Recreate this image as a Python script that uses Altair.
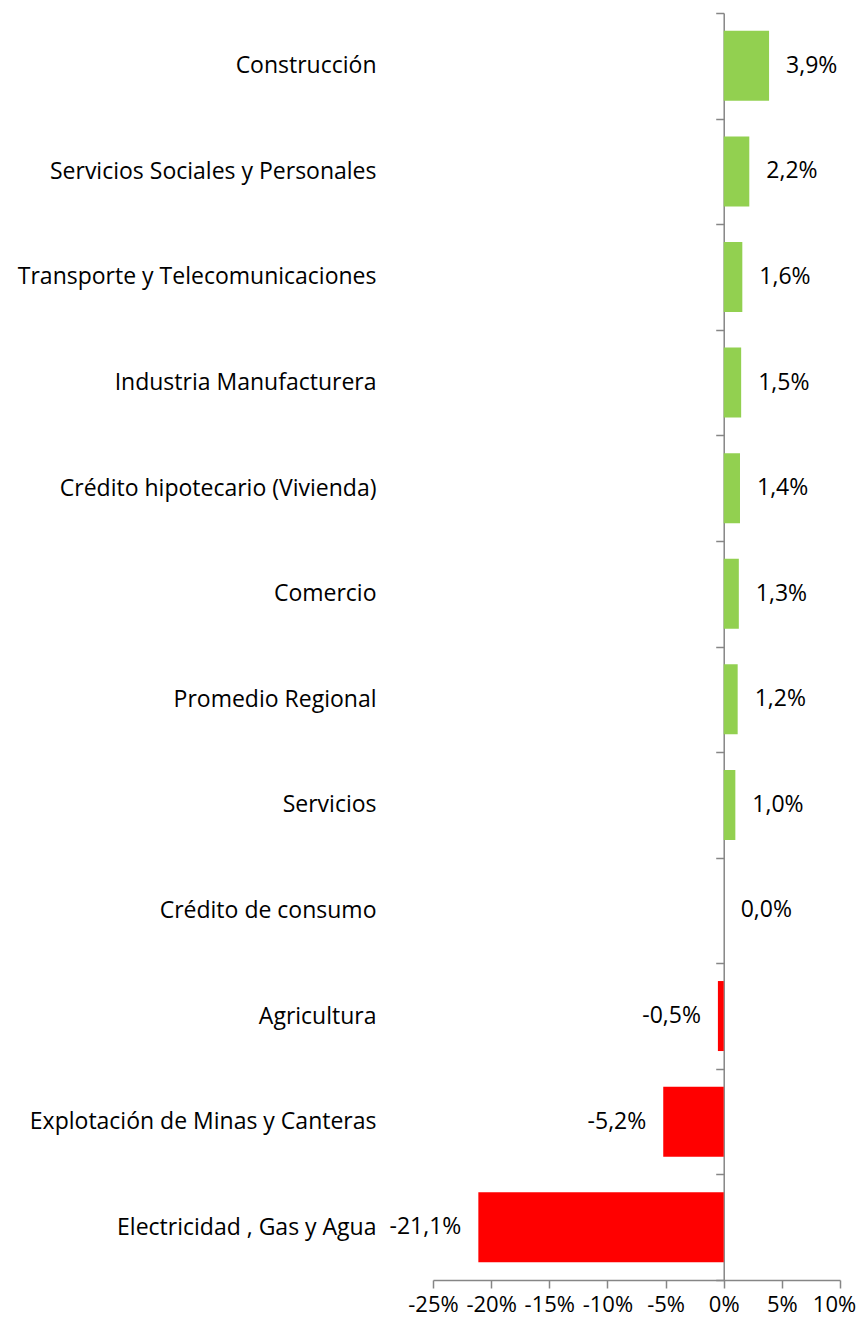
import altair as alt
import pandas as pd

categories = [
    "Construcción",
    "Servicios Sociales y Personales",
    "Transporte y Telecomunicaciones",
    "Industria Manufacturera",
    "Crédito hipotecario (Vivienda)",
    "Comercio",
    "Promedio Regional",
    "Servicios\u00a0",
    "Crédito de consumo",
    "Agricultura",
    "Explotación de Minas y Canteras",
    "Electricidad , Gas y Agua",
]
values = [3.9, 2.2, 1.6, 1.5, 1.4, 1.3, 1.2, 1.0, 0.0, -0.5, -5.2, -21.1]
labels = ["3,9%", "2,2%", "1,6%", "1,5%", "1,4%", "1,3%", "1,2%", "1,0%",
          "0,0%", "-0,5%", "-5,2%", "-21,1%"]
x_ticks = [-25, -20, -15, -10, -5, 0, 5, 10]

df = pd.DataFrame({"cat": categories, "val": values, "lab": labels})
df["sign"] = ["neg" if v < 0 else "pos" for v in values]

FONT = "Open Sans"
FS = 23
GRAY = "#868686"
W, H = 407, 1267
XMIN, XMAX = -25, 10
zero_pos = W * (0 - XMIN) / (XMAX - XMIN)

xscale = alt.Scale(domain=[XMIN, XMAX], nice=False, zero=False)
yscale = alt.Scale(domain=categories, paddingInner=0, paddingOuter=0)

base = alt.Chart(df)

bars = base.mark_bar(size=70).encode(
    x=alt.X("val:Q", scale=xscale,
            axis=alt.Axis(values=x_ticks,
                          labelExpr="datum.value + '%'", title=None, grid=False,
                          domainColor=GRAY, tickColor=GRAY, tickSize=8,
                          domainWidth=1.5, tickWidth=1.5,
                          labelFont=FONT, labelFontSize=22, labelColor="black",
                          labelPadding=6, labelFlush=False,
                          labelOffset={"condition": {"test": "datum.value == 10", "value": -6},
                                       "value": 0})),
    y=alt.Y("cat:N", scale=yscale, sort=categories,
            axis=alt.Axis(title=None, offset=-zero_pos, tickBand="extent",
                          domainColor=GRAY, tickColor=GRAY, tickSize=8,
                          domainWidth=1.5, tickWidth=1.5,
                          labelFont=FONT, labelFontSize=FS, labelColor="black",
                          labelPadding=zero_pos + 57 - 8, labelLimit=0)),
    color=alt.Color("sign:N", scale=alt.Scale(domain=["pos", "neg"],
                                              range=["#92D050", "#FF0000"]),
                    legend=None),
)

pos_text = base.transform_filter("datum.val >= 0").mark_text(
    align="left", baseline="middle", dx=17, font=FONT, fontSize=FS, color="black"
).encode(x=alt.X("val:Q", scale=xscale), y=alt.Y("cat:N", scale=yscale, sort=categories), text="lab:N")

neg_text = base.transform_filter("datum.val < 0").mark_text(
    align="right", baseline="middle", dx=-17, font=FONT, fontSize=FS, color="black"
).encode(x=alt.X("val:Q", scale=xscale), y=alt.Y("cat:N", scale=yscale, sort=categories), text="lab:N")

chart = alt.layer(bars, pos_text, neg_text).properties(
    width=W, height=H,
    autosize=alt.AutoSizeParams(type="none"),
    padding={"left": 425, "top": 5, "right": 16, "bottom": 38},
).configure_view(stroke=None)

chart.save("out.html", embed_options={"renderer": "svg", "actions": False})
